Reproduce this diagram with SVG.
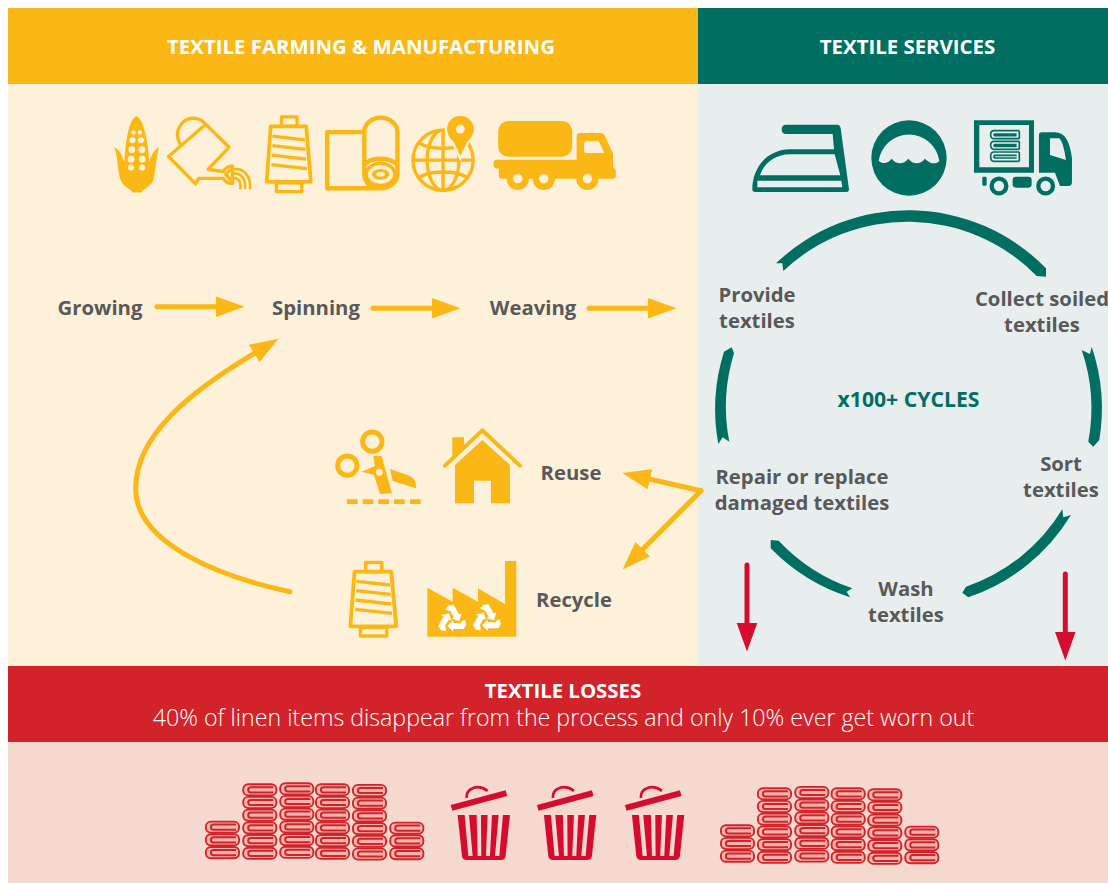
<svg xmlns="http://www.w3.org/2000/svg" xmlns:xlink="http://www.w3.org/1999/xlink" width="1108" height="883" viewBox="0 0 1108 883">
<style>
text{font-family:"Open Sans","Noto Sans","Liberation Sans",sans-serif;text-anchor:middle}
.l{font-size:20.3px;font-weight:700;fill:#58595b}
.h{font-size:20.4px;font-weight:700;fill:#fff}
.y{fill:#fab715}
.ys{fill:none;stroke:#fab715;stroke-linejoin:round;stroke-linecap:round}
.t{fill:#006f62}
.c{fill:#fef1da}
.g{fill:#e8eeee}
.ya{fill:none;stroke:#fab715;stroke-width:5;stroke-linecap:round;marker-end:url(#ay)}
.ra{fill:none;stroke:#d50c2d;stroke-width:5;stroke-linecap:round;marker-end:url(#ar)}
.r{fill:#d50c2d}
</style>
<defs>
<marker id="ay" markerUnits="userSpaceOnUse" markerWidth="30" markerHeight="22" refX="1" refY="10.5" orient="auto"><path d="M0,0.2 L28.5,10.5 L0,20.8Z" fill="#fab715"/></marker>
<marker id="ar" markerUnits="userSpaceOnUse" markerWidth="30" markerHeight="22" refX="1" refY="10.5" orient="auto"><path d="M0,0.2 L28.5,10.5 L0,20.8Z" fill="#d50c2d"/></marker>
<g id="linen"><rect x="0.9" y="0.9" width="33.2" height="11.2" rx="5" fill="#f0b5ad" stroke="#d2232a" stroke-width="1.9"/><path d="M31,3.9 H8.5 a2.6,2.6 0 0 0 0,5.2 H31" fill="none" stroke="#d2232a" stroke-width="2"/></g>
<g id="col3"><use href="#linen"/><use href="#linen" y="12.7"/><use href="#linen" y="25.4"/></g>
<g id="col6"><use href="#col3"/><use href="#col3" y="38.1"/></g>
<g id="bin">
<path class="r" d="M767,105 L932,61 L937,78 L772,122Z"/>
<path d="M815,84 C812,55 850,40 878,63" fill="none" stroke="#d50c2d" stroke-width="8"/>
<path class="r" fill-rule="evenodd" d="M788,135 L945,135 L932,258 Q930,270 918,270 L815,270 Q803,270 801,258Z M809,135 L822,135 L833,258 L820,258Z M845,135 L858,135 L859,258 L848,258Z M878,135 L891,135 L885,258 L873,258Z M911,135 L924,135 L913,258 L900,258Z"/>
</g>
<g id="spool">
<path class="ys" stroke-width="11" d="M505,78 L610,78 L624,242 L493,242Z"/>
<rect class="ys" stroke-width="10" x="537" y="50" width="46" height="28"/>
<rect class="ys" stroke-width="10" x="522" y="245" width="75" height="26"/>
<path class="ys" stroke-width="10" style="stroke-linecap:butt" d="M510,107 L607,118 M510,135 L608,146 M508,163 L610,175 M507,191 L612,203"/>
</g>
<g id="recycle">
<path id="rc1" fill="#fff" d="M-9,-44 L5.8,-44.2 L21.8,-16.5 L28.7,-20.5 L22,3 L-0.7,-3.5 L6.2,-7.5 L-5.8,-28.3 L-10,-27 L-20,-33Z"/>
<use href="#rc1" transform="rotate(120)"/>
<use href="#rc1" transform="rotate(240)"/>
</g>
</defs>

<g id="panels">
<rect class="c" x="8" y="84" width="690" height="582"/>
<rect class="g" x="698" y="84" width="410" height="582"/>
<rect fill="#fab715" x="8" y="8" width="690" height="76"/>
<rect fill="#006f62" x="698" y="8" width="410" height="76"/>
<rect fill="#d2232a" x="8" y="666" width="1100" height="76"/>
<rect fill="#f5d9ce" x="8" y="742" width="1100" height="141"/>
</g>
<g id="headers">
<text class="h" x="361" y="54">TEXTILE FARMING &amp; MANUFACTURING</text>
<text class="h" x="907.5" y="54">TEXTILE SERVICES</text>
<text class="h" x="563" y="698">TEXTILE LOSSES</text>
<text x="563.5" y="726" fill="#fff" font-weight="300" style="font-size:23.2px">40% of linen items disappear from the process and only 10% ever get worn out</text>
</g>

<g id="icon-corn" transform="translate(100,100) scale(.338)">
<path class="y" d="M108,48 C85,55 75,130 72,185 C65,160 55,145 42,140 C55,170 50,220 65,245 C75,260 90,262 97,274 L122,274 C130,262 150,255 157,240 C165,215 165,170 175,140 C160,148 150,165 146,185 C143,130 130,55 108,48Z"/>
<g class="c"><circle cx="99" cy="96" r="6.5"/><circle cx="118" cy="96" r="6.5"/><circle cx="96" cy="119" r="9"/><circle cx="121" cy="119" r="9"/><circle cx="94" cy="147" r="10"/><circle cx="124" cy="147" r="10"/><circle cx="92" cy="175" r="10"/><circle cx="125" cy="175" r="10"/><circle cx="92" cy="200" r="9"/><circle cx="125" cy="200" r="9"/></g>
</g>
<g id="icon-can" transform="translate(100,100) scale(.338)">
<path class="ys" stroke-width="10" d="M237,130 C215,90 245,54 275,54 C295,54 305,62 313,72 M313,72 L382,140 L320,205 L365,212 C372,200 380,195 392,195 L392,247 C380,247 372,245 365,232 L292,232 L283,248 L203,167Z M385,207 L372,220 L385,235"/>
<path class="ys" stroke-width="8" style="stroke-linecap:butt" d="M396,205 C425,200 447,225 444,264 M396,218 C418,215 432,235 429,264 M396,231 C408,230 418,240 415,264"/>
</g>
<g id="icon-spool"><use href="#spool" transform="translate(100,100) scale(.338)"/></g>
<g id="icon-roll" transform="translate(100,100) scale(.338)">
<path class="ys" stroke-width="13" d="M782,95 L672,95 L672,261 L830,261 C860,261 880,240 880,220 L880,95 C880,70 855,52 830,52 C805,52 782,70 782,95 L782,220 C782,240 795,255 808,261 M790,185 C810,170 850,170 875,187"/>
<ellipse cx="830" cy="220" rx="42" ry="33" fill="none" stroke="#fab715" stroke-width="10"/>
<ellipse class="y" cx="830" cy="220" rx="26" ry="16"/>
<ellipse class="c" cx="830" cy="220" rx="13" ry="7"/>
</g>
<g id="icon-globe" transform="translate(100,100) scale(.338)">
<g fill="none" stroke="#fab715" stroke-width="10">
<circle cx="1015" cy="178" r="89"/>
<ellipse cx="1015" cy="178" rx="47" ry="89"/>
<path d="M1015,88 V268 M925,178 H1105 M945,128 C980,148 1050,148 1085,128 M945,228 C980,208 1050,208 1085,228"/>
</g>
<path class="c" stroke="#fef1da" stroke-width="14" d="M1066,47 C1090,47 1106,65 1106,85 C1106,100 1098,114 1087,122 L1066,165 L1046,122 C1035,114 1027,100 1027,85 C1027,65 1042,47 1066,47Z"/>
<path class="y" d="M1066,47 C1090,47 1106,65 1106,85 C1106,100 1098,114 1087,122 L1066,165 L1046,122 C1035,114 1027,100 1027,85 C1027,65 1042,47 1066,47Z"/>
<circle class="c" cx="1066" cy="86" r="13"/>
</g>
<g id="icon-tanker" transform="translate(100,100) scale(.338)">
<rect class="y" x="1178" y="62" width="219" height="106" rx="30"/>
<path class="y" d="M1410,177 L1410,108 Q1410,98 1420,98 L1480,98 Q1490,98 1495,108 L1518,160 L1518,200 Q1526,202 1526,210 L1526,225 Q1526,233 1518,233 L1190,233 Q1180,233 1180,225 L1180,203 L1172,203 Q1164,200 1164,190 Q1164,177 1175,177Z"/>
<path class="c" d="M1440,122 L1476,122 L1492,157 L1440,157 Q1432,157 1432,149 L1432,130 Q1432,122 1440,122Z"/>
<g class="y"><circle cx="1236" cy="233" r="33"/><circle cx="1313" cy="233" r="33"/><circle cx="1442" cy="233" r="33"/></g>
<g class="c"><circle cx="1236" cy="233" r="14"/><circle cx="1313" cy="233" r="14"/><circle cx="1442" cy="233" r="14"/></g>
</g>

<g id="icon-iron" transform="translate(740,100) scale(.3333)">
<path class="t" fill-rule="evenodd" d="M138,74 L292,74 Q300,74 302,85 L327,268 Q327,276 320,276 L45,276 Q37,276 37,268 C37,200 85,148 150,148 L282,148 L278,102 L138,102 Q125,102 125,88 Q125,74 138,74Z M60,226 C72,190 105,163 150,163 L284,163 L301,226Z M52,242 L304,242 L307,262 L52,262Z"/>
</g>
<g id="icon-water" transform="translate(740,100) scale(.3333)">
<circle class="t" cx="507" cy="174" r="113"/>
<path class="g" d="M416,182 A92,92 0 0 1 598,182 C590,195 570,192 555,176 C540,194 520,194 505,176 C490,194 470,194 455,176 C445,190 428,194 416,182Z"/>
</g>
<g id="icon-van" transform="translate(740,100) scale(.3333)">
<path class="t" fill-rule="evenodd" d="M702,61 H882 V218 H702Z M718,75 V202 H867 V75Z"/>
<g fill="none" stroke="#006f62" stroke-width="5">
<path d="M838,92 H762 Q752,92 752,104 Q752,116 762,116 H838 M830,102 H764 Q760,104 764,107 H830"/>
<path d="M838,124 H762 Q752,124 752,136 Q752,148 762,148 H838 M830,134 H764 Q760,136 764,139 H830"/>
<path d="M838,156 H762 Q752,156 752,168 Q752,184 762,184 H838 M830,166 H764 Q760,170 764,174 H830"/>
<path d="M838,92 V116 M838,124 V148 M838,156 V184"/>
</g>
<path class="t" fill-rule="evenodd" d="M905,97 H945 C975,97 990,125 996,175 V245 Q996,258 985,258 H960 L945,218 H897 V105 Q897,97 905,97Z M930,115 H958 Q970,125 978,180 L930,165Z"/>
<rect class="t" x="727" y="230" width="13" height="27" rx="4"/>
<rect class="t" x="818" y="230" width="57" height="33" rx="10"/>
<circle cx="777" cy="258" r="22" fill="#e8eeee" stroke="#006f62" stroke-width="13"/>
<circle cx="917" cy="258" r="22" fill="#e8eeee" stroke="#006f62" stroke-width="13"/>
</g>

<g id="icon-scissors" transform="translate(320,420) scale(.3333)">
<circle cx="157" cy="65" r="29" fill="none" stroke="#fab715" stroke-width="15"/>
<circle cx="82" cy="137" r="29" fill="none" stroke="#fab715" stroke-width="15"/>
<path class="y" d="M160,108 L185,108 L216,220 L180,222 L162,165 L125,155 L165,138Z"/>
<circle class="c" cx="178" cy="157" r="10"/>
<path class="y" d="M210,147 L270,168 Q290,178 288,205 L218,183Z"/>
<path class="y" d="M81,238 h32 v14 h-32Z M128,238 h32 v14 h-32Z M175,238 h32 v14 h-32Z M222,238 h32 v14 h-32Z M270,238 h32 v14 h-32Z"/>
</g>
<g id="icon-house" transform="translate(320,420) scale(.3333)">
<path class="y" d="M397,52 H432 V85 L397,118Z"/>
<path class="ys" stroke-width="12" d="M375,137 L487,31 L600,137"/>
<path class="y" d="M405,135 L487,60 L570,135 V250 H513 V182 H462 V250 H405Z"/>
</g>
<g id="icon-spool2"><use href="#spool" transform="translate(320,420) scale(.3333) translate(90,425) scale(1.05,1) translate(-492,-48)"/></g>
<g id="icon-factory" transform="translate(320,420) scale(.3333)">
<path class="y" d="M322,503 L398,545 V503 L474,545 V505 L555,552 V423 H589 V650 H322Z"/>
<use href="#recycle" transform="translate(396,600)"/>
<use href="#recycle" transform="translate(500,598)"/>
</g>

<g id="connectors">
<path class="ya" d="M157,306.7 H217"/>
<path class="ya" d="M373,308.3 H433"/>
<path class="ya" d="M589,308.3 H649"/>
<path class="ya" d="M290,591.7 C225,578 135,545 135.7,488 C136,435 190,392 255,353"/>
<path class="ya" d="M701,490.7 L649,479"/>
<path class="ya" d="M701,490.7 L642,550"/>
<path class="ra" d="M747,565 V624"/>
<path class="ra" d="M1065.3,574 V633"/>
<g class="t">
<path d="M776,263.3 A192,192 0 0 1 1046,268.3 L1046,276.7 L1036.7,276 A181,181 0 0 0 783.3,271 L782.3,263.3Z"/>
<path d="M1091.7,346.7 A192,192 0 0 1 1099.3,440 L1093.3,446.7 L1088.3,441.7 A181,181 0 0 0 1081.7,350 L1090,354Z"/>
<path d="M1071,515 A192,192 0 0 1 968.3,597.3 L962.3,592.7 L966,586.7 A181,181 0 0 0 1062.3,509.3 L1063.3,517.3Z"/>
<path d="M850,597.3 A192,192 0 0 1 770.7,548.3 L770.7,540 L778.7,540.7 A181,181 0 0 0 852.3,588.3 L846.7,591.7Z"/>
<path d="M718.3,444 A192,192 0 0 1 724,351.7 L731.7,347.3 L734,353.3 A181,181 0 0 0 729.3,441.7 L722.7,437.3Z"/>
</g>
</g>

<g id="node-growing"><text class="l" x="100" y="314.5">Growing</text></g>
<g id="node-spinning"><text class="l" x="316" y="314.5">Spinning</text></g>
<g id="node-weaving"><text class="l" x="533" y="314.5">Weaving</text></g>
<g id="node-provide"><text class="l" x="757" y="302">Provide</text><text class="l" x="757" y="328">textiles</text></g>
<g id="node-collect"><text class="l" x="1042" y="306">Collect soiled</text><text class="l" x="1042" y="332">textiles</text></g>
<g id="node-cycles"><text class="l" x="908.5" y="407" style="fill:#006f62;font-size:21.2px">x100+ CYCLES</text></g>
<g id="node-repair"><text class="l" x="802" y="484">Repair or replace</text><text class="l" x="802" y="510">damaged textiles</text></g>
<g id="node-sort"><text class="l" x="1061" y="471">Sort</text><text class="l" x="1061" y="497">textiles</text></g>
<g id="node-wash"><text class="l" x="906" y="596">Wash</text><text class="l" x="906" y="622">textiles</text></g>
<g id="node-reuse"><text class="l" x="571" y="480">Reuse</text></g>
<g id="node-recycle"><text class="l" x="574" y="607">Recycle</text></g>

<g id="linen-left">
<use href="#col3" x="205" y="820.7"/><use href="#col6" x="242.3" y="783.3"/><use href="#col6" x="279.3" y="782.3"/><use href="#col6" x="315" y="783.3"/><use href="#col6" x="352" y="784"/><use href="#col3" x="389.3" y="821.7"/>
</g>
<g id="bins">
<use href="#bin" transform="translate(195,770) scale(.3333)"/>
<use href="#bin" transform="translate(281.3,770) scale(.3333)"/>
<use href="#bin" transform="translate(369.3,770) scale(.3333)"/>
</g>
<g id="linen-right">
<use href="#col3" x="720" y="824.3"/><use href="#col6" x="757" y="787.3"/><use href="#col6" x="794.3" y="786"/><use href="#col6" x="830.7" y="787.3"/><use href="#col6" x="867.3" y="788.3"/><use href="#col3" x="904.3" y="825.7"/>
</g>
</svg>
